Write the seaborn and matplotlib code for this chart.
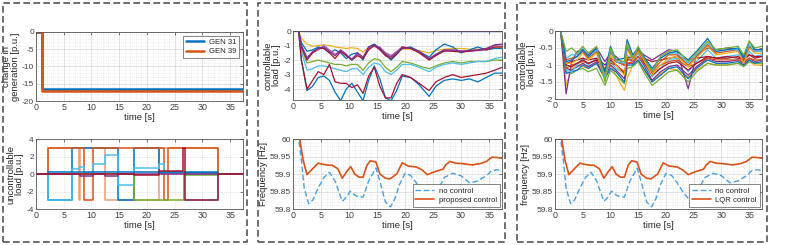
import matplotlib
matplotlib.use("Agg")
import matplotlib.pyplot as plt
from matplotlib.patches import Rectangle
from matplotlib.ticker import MultipleLocator, FuncFormatter
import seaborn as sns

# matlab default colours
BLUE = "#0072BD"
ORANGE = "#D95319"
YELLOW = "#EDB120"
PURPLE = "#7E2F8E"
GREEN = "#77AC30"
LBLUE = "#4DBEEE"
DRED = "#A2142F"
SALMON = "#EE9C76"
MAGENTA = "#B05CC0"

# ---- panel 1 top: change in generation
gen_t = [0, 1.0, 37.3]
gen31 = [0, -16.5, -16.5]
gen39 = [0, -17.0, -17.0]

# ---- panel 1 bottom: uncontrollable load (step signals)
unc_salmon_t = [0, 2.2, 7.7, 8.0, 12.4, 22.2, 32.8, 37.3]
unc_salmon_v = [0, 3, -3, 3, -3, 3, 0, 0]
unc_blue_t = [0, 2.2, 6.5, 14.8, 17.6, 22.2, 32.8, 37.3]
unc_blue_v = [0, -3, 3, -3, 3, 0.15, 0, 0]
unc_orange_t = [0, 2.2, 8.7, 10.2, 23.0, 23.7, 32.8, 37.3]
unc_orange_v = [0, 3, -3, 3, -3, 3, 0, 0]
unc_lblue_t = [0, 2.2, 6.5, 7.7, 8.7, 10.2, 12.4, 14.8, 17.6, 22.2, 23.0, 26.7, 32.8, 37.3]
unc_lblue_v = [0, -3, 0.6, 0.8, 0.1, 1.2, 2.2, -1.2, 0.7, 1.2, 0.1, -3, 0, 0]
unc_dblue_t = [0, 2.2, 32.8, 37.3]
unc_dblue_v = [0, 0.2, 0, 0]
unc_green_t = [0, 2.2, 17.6, 26.7, 32.8, 37.3]
unc_green_v = [0, 0.05, -3, -0.1, 0, 0]
unc_purple_t = [0, 8.0, 10.2, 12.4, 14.8, 37.3]
unc_purple_v = [0, -0.2, 0, -0.2, 0, 0]
unc_dred_t = [0, 17.6, 22.2, 26.4, 26.9, 32.8, 37.3]
unc_dred_v = [0, -0.1, 0.3, 3, -3, 0, 0]

# ---- panel 2 top: controllable load (proposed)
t2 = [0, 1, 1.5, 2.5, 3.5, 4.5, 5.5, 6.5, 7.5, 8.5, 9.5, 10.5, 11.5, 12.5, 13.5, 14.5, 15.5,
      16.5, 17.5, 18.5, 19.5, 21, 22.5, 24.3, 25.5, 27, 28.5, 30, 31.5, 33, 34.5, 36, 37.3]
c2_flat = [0] * 33
c2_flat2 = [0, 0, -0.02, -0.04, -0.04, -0.04, -0.04, -0.04, -0.04, -0.04, -0.04, -0.04, -0.04,
            -0.04, -0.04, -0.04, -0.04, -0.05, -0.05, -0.05, -0.04, -0.04, -0.04, -0.05, -0.04,
            -0.04, -0.04, -0.04, -0.04, -0.04, -0.04, -0.04, -0.04]
c2_blue_low = [0, 0, -2.0, -4.1, -3.8, -3.2, -3.1, -3.4, -4.2, -4.8, -4.0, -3.6, -4.2, -4.8, -3.4,
               -2.4, -3.3, -4.6, -4.8, -4.1, -3.1, -3.2, -3.7, -4.5, -3.8, -3.4, -3.3, -3.4, -3.3,
               -3.5, -3.2, -2.9, -2.9]
c2_dred_low = [0, 0, -2.0, -4.0, -3.4, -2.8, -3.0, -2.3, -3.5, -3.6, -3.6, -3.9, -3.7, -4.3, -3.1,
               -2.5, -3.8, -4.6, -4.6, -3.6, -3.0, -3.2, -3.6, -4.1, -3.5, -3.2, -3.0, -3.2, -3.1,
               -3.0, -2.9, -2.7, -2.5]
c2_lblue = [0, 0, -1.4, -2.7, -2.6, -2.4, -2.4, -2.5, -2.6, -2.7, -2.8, -2.6, -2.6, -3.0, -2.5,
            -2.2, -2.3, -2.8, -3.0, -2.7, -2.3, -2.3, -2.5, -2.8, -2.5, -2.3, -2.2, -2.3, -2.2,
            -2.1, -2.1, -1.9, -1.8]
c2_green = [0, 0, -1.2, -2.2, -2.1, -2.0, -2.1, -2.2, -2.3, -2.3, -2.4, -2.3, -2.3, -2.7, -2.2,
            -1.9, -2.0, -2.5, -2.8, -2.5, -2.1, -2.2, -2.4, -2.6, -2.4, -2.2, -2.1, -2.2, -2.1,
            -2.1, -2.1, -2.0, -2.0]
c2_yellow = [0, 0, -0.5, -0.9, -1.05, -1.0, -0.95, -1.0, -1.1, -1.15, -1.2, -1.15, -1.2, -1.45,
             -1.15, -1.05, -1.15, -1.5, -1.7, -1.5, -1.25, -1.25, -1.35, -1.5, -1.35, -1.25, -1.2,
             -1.2, -1.25, -1.25, -1.2, -1.15, -1.1]
c2_blue_up = [0, 0, -0.8, -1.4, -1.3, -1.1, -1.2, -1.5, -1.3, -1.5, -1.9, -1.6, -1.5, -2.0, -1.1,
              -0.9, -1.2, -1.6, -2.0, -1.6, -1.2, -1.1, -1.4, -1.8, -1.3, -0.9, -1.1, -1.5, -1.3,
              -1.1, -1.3, -1.2, -1.2]
c2_purple = [0, 0, -1.0, -1.9, -1.4, -1.2, -1.1, -1.4, -1.7, -1.3, -1.6, -2.0, -1.5, -1.8, -1.1,
             -0.95, -1.2, -1.6, -1.8, -1.5, -1.2, -1.15, -1.4, -1.9, -1.6, -1.3, -1.3, -1.4,
             -1.35, -1.3, -1.2, -0.95, -0.9]
c2_magenta = [0, 0, -1.0, -1.8, -1.5, -1.3, -1.0, -1.3, -1.6, -1.4, -1.7, -1.9, -1.6, -1.9, -1.2,
              -1.0, -1.1, -1.5, -1.7, -1.4, -1.1, -1.2, -1.45, -1.95, -1.65, -1.4, -1.35, -1.35,
              -1.4, -1.35, -1.25, -1.0, -0.95]
c2_dred_up = [0, 0, -1.1, -2.0, -1.5, -1.2, -1.2, -1.5, -1.9, -1.4, -1.7, -2.0, -1.7, -1.9, -1.3,
              -1.0, -1.3, -1.7, -1.9, -1.6, -1.1, -1.2, -1.5, -2.0, -1.7, -1.35, -1.4, -1.45, -1.4,
              -1.3, -1.3, -1.1, -1.1]

# ---- panel 3 top: controllable load (LQR)
t3 = [0, 1.0, 1.5, 2.0, 3.0, 4.0, 5.0, 6.0, 7.5, 9.0, 10.0, 11.0, 12.5, 13.0, 14.0, 15.0, 16.0,
      17.5, 19.0, 20.5, 22.0, 24.0, 25.5, 27.5, 29.0, 31.0, 33.0, 34.0, 35.0, 36.0, 37.3]
c3_blue1 = [0, 0, -0.4, -0.9, -0.85, -0.75, -0.55, -0.75, -0.5, -1.2, -0.45, -0.85, -0.8, -0.25,
            -0.7, -0.5, -0.75, -1.1, -0.8, -0.65, -0.6, -0.85, -0.6, -0.22, -0.6, -0.55, -0.5,
            -0.8, -0.3, -0.55, -0.55]
c3_green1 = [0, 0, -0.3, -0.6, -0.5, -0.65, -0.45, -0.65, -0.45, -1.5, -0.5, -0.85, -0.9, -0.35,
             -0.8, -0.45, -0.8, -1.2, -0.75, -0.6, -0.55, -0.9, -0.65, -0.3, -0.55, -0.5, -0.45,
             -0.7, -0.3, -0.5, -0.45]
c3_purple1 = [0, 0, -0.9, -1.85, -0.9, -0.6, -0.55, -0.7, -0.5, -0.9, -0.65, -0.75, -1.0, -0.5,
              -0.75, -0.55, -0.7, -0.85, -0.7, -0.55, -0.6, -1.7, -0.7, -0.5, -0.55, -0.5, -0.55,
              -0.75, -0.45, -0.55, -0.55]
c3_yellow1 = [0, 0, -0.7, -1.6, -1.1, -1.0, -1.05, -1.1, -0.95, -1.2, -1.0, -1.3, -1.75, -1.4,
              -1.0, -0.85, -1.15, -1.45, -1.25, -1.1, -1.15, -1.35, -1.15, -0.95, -1.0, -1.0,
              -0.95, -1.0, -0.9, -1.0, -1.0]
c3_dred1 = [0, 0, -0.4, -0.95, -0.9, -0.85, -0.8, -0.85, -0.8, -1.0, -0.8, -0.9, -1.0, -0.8,
            -0.75, -0.6, -0.8, -0.9, -0.85, -0.8, -0.75, -0.85, -0.8, -0.75, -0.8, -0.75, -0.8,
            -0.85, -0.7, -0.75, -0.75]
c3_lblue1 = [0, 0, -0.5, -1.15, -1.2, -1.0, -0.8, -1.0, -0.8, -1.3, -0.9, -1.1, -1.25, -0.7,
             -0.9, -0.65, -0.95, -1.35, -1.1, -0.85, -0.8, -1.2, -0.9, -0.55, -0.8, -0.75, -0.7,
             -0.9, -0.6, -0.75, -0.7]
c3_orange1 = [0, 0, -0.5, -1.1, -1.0, -0.95, -0.9, -0.95, -0.85, -1.1, -0.95, -1.0, -1.2, -0.95,
              -0.9, -0.75, -0.95, -1.25, -1.0, -0.9, -0.85, -1.05, -0.95, -0.8, -0.85, -0.85,
              -0.85, -0.9, -0.8, -0.85, -0.85]
c3_blue2 = [0, 0, -0.6, -1.25, -1.2, -1.15, -1.0, -1.1, -0.95, -1.4, -1.1, -1.2, -1.5, -1.0,
            -1.0, -0.85, -1.1, -1.5, -1.3, -1.1, -1.05, -1.4, -1.1, -0.85, -0.95, -0.95, -0.9,
            -1.0, -0.85, -0.95, -0.9]
c3_green2 = [0, 0, -0.55, -1.2, -1.25, -1.15, -1.1, -1.2, -1.1, -1.6, -1.15, -1.3, -1.55, -1.1,
             -1.05, -0.9, -1.2, -1.6, -1.4, -1.2, -1.15, -1.5, -1.2, -0.95, -1.0, -1.0, -0.95,
             -1.05, -0.9, -0.95, -0.95]
c3_purple2 = [0, 0, -0.5, -1.1, -1.15, -1.05, -0.95, -1.05, -0.9, -1.35, -1.0, -1.15, -1.4,
              -0.95, -0.95, -0.75, -1.0, -1.45, -1.2, -1.05, -1.0, -1.3, -1.05, -0.8, -0.9, -0.9,
              -0.85, -0.95, -0.8, -0.9, -0.85]
c3_dred2 = [0, 0, -0.45, -1.0, -1.05, -0.95, -0.85, -0.95, -0.85, -1.15, -0.85, -1.0, -1.25,
            -0.85, -0.85, -0.6, -0.9, -1.3, -1.1, -0.95, -0.9, -1.15, -0.95, -0.75, -0.8, -0.8,
            -0.75, -0.85, -0.7, -0.8, -0.75]
c3_lblue2 = [0, 0, -0.35, -0.8, -0.7, -0.7, -0.5, -0.75, -0.55, -1.35, -0.55, -0.9, -0.95, -0.4,
             -0.75, -0.5, -0.75, -1.15, -0.8, -0.65, -0.65, -0.95, -0.7, -0.35, -0.6, -0.55,
             -0.55, -0.8, -0.4, -0.6, -0.6]
c3_yellow2 = [0, 0, -0.4, -0.95, -0.95, -0.85, -0.65, -0.85, -0.65, -1.45, -0.7, -1.0, -1.3,
              -0.55, -0.85, -0.6, -0.85, -1.3, -1.0, -0.8, -0.75, -1.05, -0.8, -0.45, -0.7,
              -0.65, -0.6, -0.95, -0.5, -0.65, -0.65]
c3_orange2 = [0, 0, -0.35, -0.85, -0.8, -0.75, -0.6, -0.8, -0.6, -1.3, -0.6, -0.9, -1.0, -0.45,
              -0.8, -0.55, -0.8, -1.2, -0.9, -0.7, -0.7, -1.0, -0.75, -0.4, -0.65, -0.6, -0.55,
              -0.85, -0.45, -0.6, -0.6]

# ---- frequency (same in panels 2 and 3)
t_nc = [0, 1.0, 1.5, 2.0, 2.8, 3.5, 4.5, 5.5, 6.5, 7.5, 8.8, 9.5, 10.2, 11.0, 11.5, 12.5, 13.5,
        14.8, 15.5, 16.5, 17.4, 18.2, 19.0, 20.0, 21.0, 22.0, 23.0, 24.0, 25.0, 26.0, 27.0, 28.5,
        30.0, 31.5, 33.0, 34.5, 35.5, 36.5, 37.3]
f_nc = [60.0, 60.0, 59.94, 59.86, 59.815, 59.825, 59.86, 59.89, 59.905, 59.88, 59.822, 59.833,
        59.851, 59.84, 59.836, 59.834, 59.88, 59.917, 59.88, 59.82, 59.806, 59.83, 59.87, 59.902,
        59.896, 59.875, 59.85, 59.83, 59.835, 59.86, 59.89, 59.902, 59.895, 59.875, 59.88,
        59.895, 59.91, 59.912, 59.91]
t_pc = [0, 1.2, 1.8, 2.5, 3.5, 4.5, 5.5, 6.5, 7.0, 8.0, 8.8, 9.5, 10.3, 11.0, 11.8, 12.5, 13.2,
        13.8, 14.8, 15.5, 16.5, 17.3, 18.5, 19.5, 20.5, 22.0, 23.0, 24.0, 25.0, 26.0, 26.8, 27.2,
        28.0, 29.0, 30.0, 32.0, 33.5, 34.5, 35.5, 36.5, 37.3]
f_pc = [60.0, 60.0, 59.94, 59.898, 59.915, 59.931, 59.927, 59.925, 59.925, 59.915, 59.888,
        59.905, 59.921, 59.9, 59.891, 59.891, 59.925, 59.938, 59.934, 59.9, 59.888, 59.886, 59.9,
        59.932, 59.923, 59.92, 59.912, 59.898, 59.905, 59.91, 59.914, 59.925, 59.936, 59.931,
        59.93, 59.926, 59.93, 59.936, 59.948, 59.947, 59.945]


sns.set_theme(style="white")
plt.rcParams["font.family"] = ["Liberation Sans", "DejaVu Sans"]
plt.rcParams["axes.unicode_minus"] = False

W, H = 789, 245
XTICK_FS = 6.4
YTICK_FS = 6.0
LABEL_FS = 6.8
LEG_FS = 5.6
fig = plt.figure(figsize=(W / 100, H / 100), dpi=100)


def make_ax(x0, x1, y0, y1):
    # pixel box -> figure fraction
    return fig.add_axes([x0 / W, 1 - y1 / H, (x1 - x0) / W, (y1 - y0) / H])


def style(ax, ylim, yticks, ylabel, minor_y=None, minor=True):
    ax.set_xlim(0, 37.3)
    ax.set_ylim(*ylim)
    ax.set_xticks([0, 5, 10, 15, 20, 25, 30, 35])
    ax.set_yticks(yticks)
    ax.yaxis.set_major_formatter(FuncFormatter(lambda v, p: "%g" % round(v, 3)))
    ax.set_xlabel("time [s]", fontsize=LABEL_FS, labelpad=1, color="#262626")
    ax.set_ylabel(ylabel, fontsize=LABEL_FS, labelpad=1.5, color="#262626", linespacing=0.95)
    ax.tick_params(colors="#404040", direction="in", length=2, pad=1.5,
                   top=True, right=True, width=0.5)
    ax.tick_params(axis="x", labelsize=XTICK_FS)
    ax.tick_params(axis="y", labelsize=YTICK_FS)
    for s in ax.spines.values():
        s.set_visible(True)
        s.set_color("#555555")
        s.set_linewidth(0.6)
    if minor:
        ax.xaxis.set_minor_locator(MultipleLocator(1))
        if minor_y:
            ax.yaxis.set_minor_locator(MultipleLocator(minor_y))
        ax.grid(True, which="major", color="#d6d6d6", lw=0.5)
        ax.grid(True, which="minor", color="#e2e2e2", lw=0.5, ls=":")
        ax.tick_params(which="minor", length=0)
    else:
        ax.grid(True, which="major", color="#cccccc", lw=0.5, ls=":")
    ax.set_axisbelow(True)


def line(ax, t, v, c, lw=1.0, **kw):
    sns.lineplot(x=t, y=v, color=c, lw=lw, estimator=None, sort=False, ax=ax, **kw)


def legend(ax, loc, pad):
    lg = ax.legend(loc=loc, fontsize=LEG_FS, frameon=True, fancybox=False, edgecolor="#555555",
                   framealpha=1, handlelength=2.4, borderpad=0.35, labelspacing=0.25,
                   borderaxespad=pad, handletextpad=0.6)
    lg.get_frame().set_linewidth(0.5)


# ---- panel 1 top
ax = make_ax(36, 243, 32, 101)
line(ax, gen_t, gen31, BLUE, lw=1.8, drawstyle="steps-post", label="GEN 31")
line(ax, gen_t, gen39, ORANGE, lw=1.8, drawstyle="steps-post", label="GEN 39")
style(ax, (-20, 0), [-20, -15, -10, -5, 0], "change in\ngeneration [p.u.]", minor_y=1)
legend(ax, "upper right", 0.5)

# ---- panel 1 bottom
ax = make_ax(36, 243, 139, 209)
unc = [(unc_salmon_t, unc_salmon_v, SALMON), (unc_blue_t, unc_blue_v, BLUE),
       (unc_orange_t, unc_orange_v, ORANGE), (unc_lblue_t, unc_lblue_v, LBLUE),
       (unc_dblue_t, unc_dblue_v, BLUE), (unc_green_t, unc_green_v, GREEN),
       (unc_purple_t, unc_purple_v, PURPLE), (unc_dred_t, unc_dred_v, DRED)]
for t, v, c in unc:
    line(ax, t, v, c, lw=1.1, drawstyle="steps-post")
style(ax, (-4, 4), [-4, -2, 0, 2, 4], "uncontrollable\nload [p.u.]", minor=False)

# ---- panel 2 top
ax = make_ax(293, 502, 31, 100)
ctrl2 = [(c2_blue_low, BLUE), (c2_green, GREEN), (c2_lblue, LBLUE), (c2_dred_low, DRED),
         (c2_yellow, YELLOW), (c2_blue_up, BLUE), (c2_magenta, MAGENTA), (c2_dred_up, DRED),
         (c2_purple, PURPLE), (c2_flat2, LBLUE), (c2_flat, PURPLE)]
for v, c in ctrl2:
    line(ax, t2, v, c, lw=0.9)
style(ax, (-4.75, 0), [-4, -3, -2, -1, 0], "controllable\nload [p.u.]", minor_y=0.25)

# ---- frequency panels
for x0, x1, ylab, lab in [(293, 502, "Frequency [Hz]", "proposed control"),
                          (555, 762, "frequency [Hz]", "LQR control")]:
    ax = make_ax(x0, x1, 139, 209)
    line(ax, t_nc, f_nc, "#4A9FE0", lw=1.0, dashes=(4, 2), label="no control")
    line(ax, t_pc, f_pc, ORANGE, lw=1.2, label=lab)
    style(ax, (59.8, 60), [59.8, 59.85, 59.9, 59.95, 60], ylab, minor_y=0.01)
    legend(ax, "lower right", 0.3)

# ---- panel 3 top
ax = make_ax(555, 762, 31, 99)
ctrl3 = [(c3_yellow1, YELLOW), (c3_purple1, PURPLE), (c3_green2, GREEN), (c3_blue2, BLUE),
         (c3_purple2, PURPLE), (c3_lblue1, LBLUE), (c3_orange1, ORANGE), (c3_dred2, DRED),
         (c3_dred1, DRED), (c3_yellow2, YELLOW), (c3_orange2, ORANGE), (c3_lblue2, LBLUE),
         (c3_blue1, BLUE), (c3_green1, GREEN)]
for v, c in ctrl3:
    line(ax, t3, v, c, lw=0.9)
style(ax, (-2, 0), [-2, -1.5, -1, -0.5, 0], "controllable\nload [p.u.]", minor_y=0.1)

# dashed panel borders
for x0, x1 in [(3, 247), (258, 505), (517, 767)]:
    fig.add_artist(Rectangle((x0 / W, 3 / H), (x1 - x0) / W, 239 / H, transform=fig.transFigure,
                             fill=False, ls=(0, (4, 2)), ec="#555555", lw=1.2))

fig.savefig("out.png", dpi=100)
